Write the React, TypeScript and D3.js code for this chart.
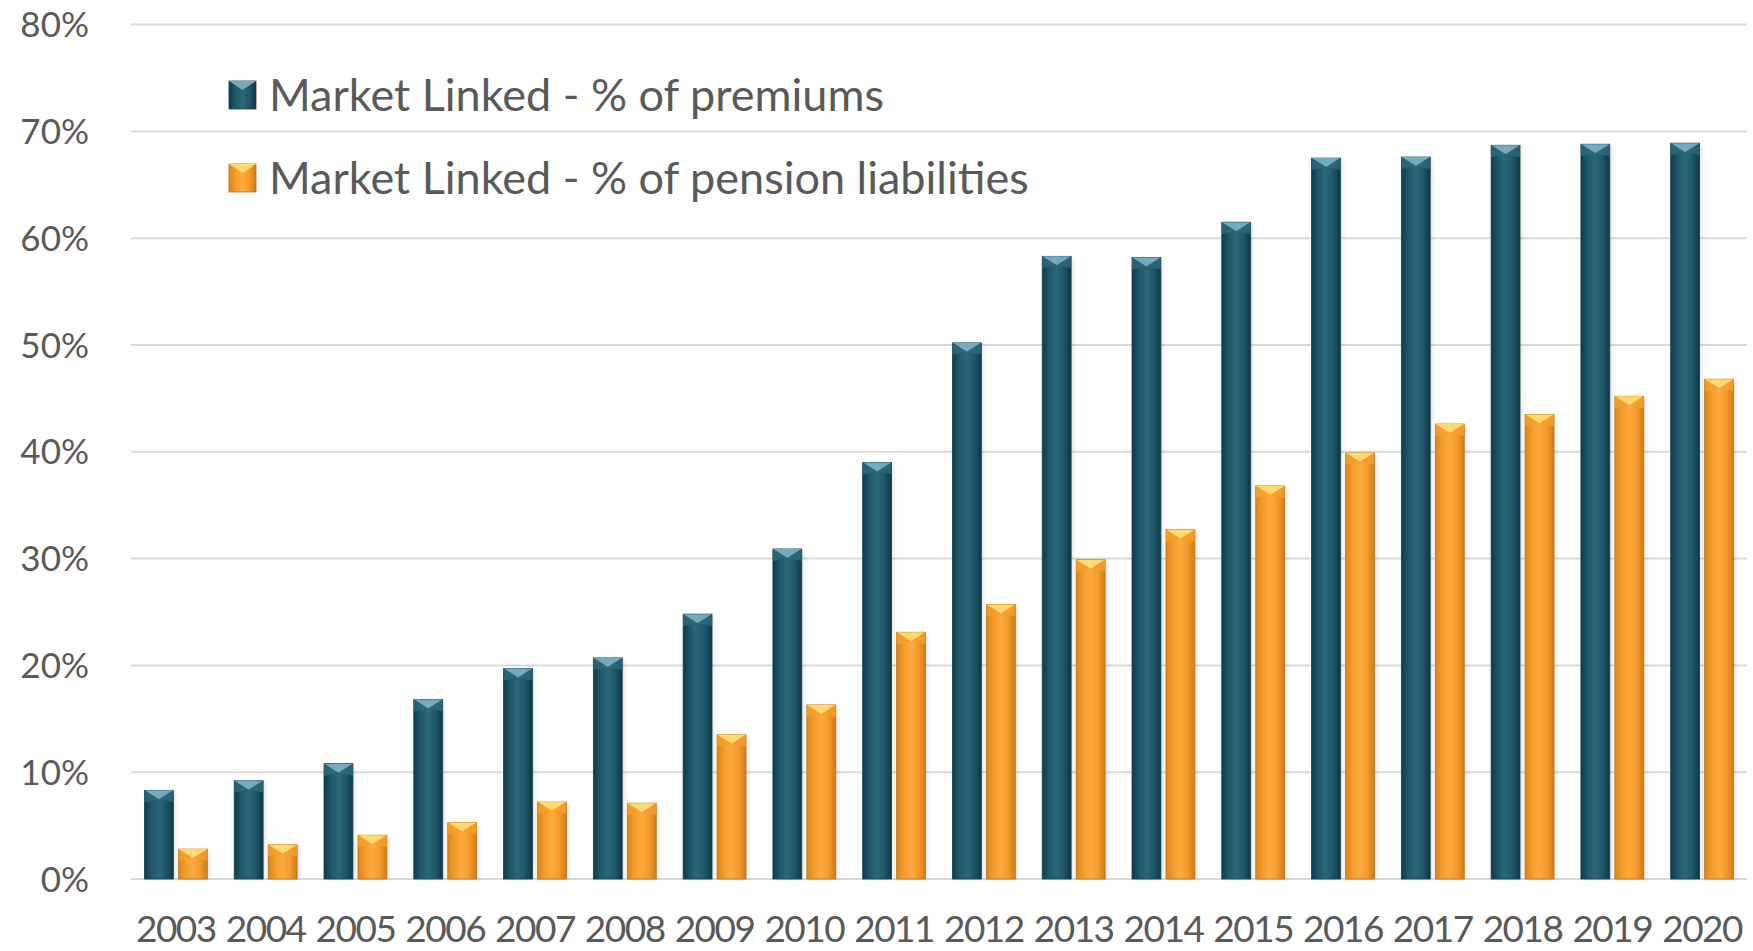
import React from "react";
import * as d3 from "d3";

const years = ["2003","2004","2005","2006","2007","2008","2009","2010","2011","2012","2013","2014","2015","2016","2017","2018","2019","2020"];
const premiums = [8.3, 9.2, 10.8, 16.8, 19.7, 20.7, 24.8, 30.9, 39.0, 50.2, 58.3, 58.2, 61.5, 67.5, 67.6, 68.7, 68.8, 68.9];
const liabilities = [2.8, 3.2, 4.1, 5.3, 7.2, 7.1, 13.5, 16.3, 23.1, 25.7, 29.9, 32.7, 36.8, 39.9, 42.6, 43.5, 45.2, 46.8];
const seriesNames = ["Market Linked - % of premiums", "Market Linked - % of pension liabilities"];
const yTicks = [0, 10, 20, 30, 40, 50, 60, 70, 80];

const W = 1753;
const H = 951;
const FONT = "Lato, 'Open Sans', sans-serif";

export default function App() {
  const x = d3.scaleBand<string>().domain(years).range([131, 1747]).paddingInner(0.3).paddingOuter(0.15);
  const xi = d3.scaleBand<string>().domain(["p", "l"]).range([0, x.bandwidth()]).paddingInner(0.15);
  const y = d3.scaleLinear().domain([0, 80]).range([879, 24.6]);
  const bw = xi.bandwidth();

  const bar = (yr: string, v: number, key: "p" | "l") => {
    const x0 = (x(yr) as number) + (xi(key) as number);
    const y0 = y(v);
    const y1 = y(0);
    const cap = 9;
    const xc = x0 + bw / 2;
    return (
      <g key={yr + key}>
        <rect x={x0 + 2} y={y0 + 2} width={bw} height={y1 - y0 - 2} fill="#000" opacity={0.12} filter="url(#blur)" />
        <rect x={x0} y={y0} width={bw} height={y1 - y0} fill={`url(#grad-${key})`} stroke={key === "p" ? "#173f4c" : "#b7721c"} strokeWidth={0.8} />
        <polygon points={`${x0},${y0} ${x0 + bw},${y0} ${xc},${y0 + cap}`} fill={key === "p" ? "#7fb3c2" : "#ffe07a"} opacity={0.9} />
        <polygon points={`${x0},${y0} ${xc},${y0 + cap} ${x0},${y0 + cap + 3}`} fill={key === "p" ? "#2e6a7c" : "#f2a12c"} opacity={0.8} />
        <polygon points={`${x0 + bw},${y0} ${xc},${y0 + cap} ${x0 + bw},${y0 + cap + 3}`} fill={key === "p" ? "#2e6a7c" : "#f2a12c"} opacity={0.8} />
      </g>
    );
  };

  return (
    <svg width={W} height={H} style={{ position: "absolute", left: 0, top: 0, background: "#fff" }}>
      <defs>
        <linearGradient id="grad-p" x1="0" x2="1" y1="0" y2="0">
          <stop offset="0" stopColor="#0f3a48" />
          <stop offset="0.25" stopColor="#1f5a6c" />
          <stop offset="0.5" stopColor="#2a6778" />
          <stop offset="0.75" stopColor="#1e586a" />
          <stop offset="1" stopColor="#0e3744" />
        </linearGradient>
        <linearGradient id="grad-l" x1="0" x2="1" y1="0" y2="0">
          <stop offset="0" stopColor="#d98618" />
          <stop offset="0.25" stopColor="#f59c2c" />
          <stop offset="0.5" stopColor="#fbab3f" />
          <stop offset="0.75" stopColor="#f49a2a" />
          <stop offset="1" stopColor="#cf7c14" />
        </linearGradient>
        <filter id="blur" x="-20%" y="-5%" width="140%" height="110%">
          <feGaussianBlur stdDeviation="2" />
        </filter>
      </defs>

      {yTicks.map((t) => (
        <g key={t}>
          <line x1={131} x2={1747} y1={y(t)} y2={y(t)} stroke="#d9d9d9" strokeWidth={2} />
          <text x={89} y={y(t)} dy="0.36em" textAnchor="end" fontFamily={FONT} fontSize={35} fill="#595959">
            {t}%
          </text>
        </g>
      ))}

      {years.map((yr, i) => (
        <g key={yr}>
          {bar(yr, premiums[i], "p")}
          {bar(yr, liabilities[i], "l")}
          <text x={(x(yr) as number) + x.bandwidth() / 2} y={942} textAnchor="middle" fontFamily={FONT} fontSize={37} letterSpacing={-1.5} fill="#595959">
            {yr}
          </text>
        </g>
      ))}

      {seriesNames.map((name, i) => {
        const cy = 95 + i * 83;
        const key = i === 0 ? "p" : "l";
        return (
          <g key={name}>
            <rect x={229} y={cy - 14} width={27} height={28} fill={`url(#grad-${key})`} stroke={i === 0 ? "#173f4c" : "#b7721c"} strokeWidth={0.8} />
            <polygon points={`229,${cy - 14} 256,${cy - 14} 242.5,${cy - 5}`} fill={i === 0 ? "#7fb3c2" : "#ffe07a"} opacity={0.9} />
            <text x={269} y={cy} dy="0.36em" fontFamily={FONT} fontSize={45} fill="#595959">
              {name}
            </text>
          </g>
        );
      })}
    </svg>
  );
}
